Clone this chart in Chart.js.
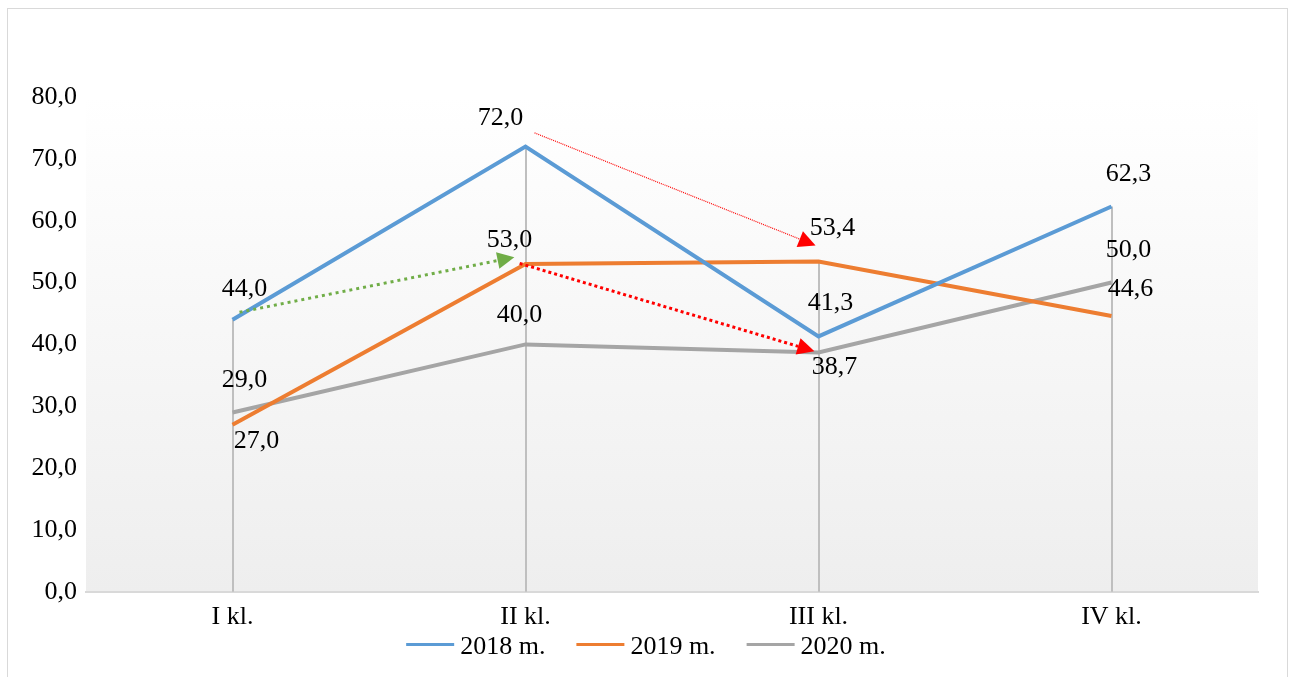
<!DOCTYPE html>
<html>
<head>
<meta charset="utf-8">
<script src="https://cdn.jsdelivr.net/npm/chart.js@4.4.0/dist/chart.umd.min.js"></script>
<style>
  html, body { margin: 0; padding: 0; background: #fff; }
  #wrap { position: relative; width: 1292px; height: 677px; overflow: hidden; }
  #frame { position: absolute; left: 7px; top: 8px; width: 1279px; height: 720px; border: 1px solid #d9d9d9; }
  canvas { position: absolute; left: 0; top: 0; }
</style>
</head>
<body>
<div id="wrap">
  <div id="frame"></div>
  <canvas id="Linegraph" width="1292" height="677"></canvas>
</div>
<script>
const categories = ['I kl.', 'II kl.', 'III kl.', 'IV kl.'];
const values2018 = [44.0, 72.0, 41.3, 62.3];
const values2019 = [27.0, 53.0, 53.4, 44.6];
const values2020 = [29.0, 40.0, 38.7, 50.0];
const yTicks = [0, 10, 20, 30, 40, 50, 60, 70, 80];

// where each value label sits relative to its point (px)
const labelOffsets = [
  [[12, -30], [-25, -28], [12, -33], [17, -32]],
  [[24, 16], [-16, -24], [14, -33], [19, -27]],
  [[12, -32], [-6, -29], [16, 15], [17, -32]]
];

// arrows drawn over the chart, in category index / value units
const arrows = [
  { from: [0.024, 45.2], to: [0.962, 54.1], color: '#70ad47', width: 3, dash: [3, 4], head: 17 },
  { from: [0.980, 53.1], to: [1.986, 38.9], color: '#ff0000', width: 3, dash: [3, 3], head: 17 },
  { from: [1.031, 74.2], to: [1.990, 56.0], color: '#ff0000', width: 1.2, dash: [1, 1], head: 17 }
];

const fmt = v => v.toFixed(1).replace('.', ',');
const font = { family: '"Liberation Serif", "Times New Roman", serif', size: 26 };

const extras = {
  id: 'extras',
  beforeDraw(chart) {
    const { ctx, chartArea: a } = chart;
    const g = ctx.createLinearGradient(0, a.top, 0, a.bottom);
    g.addColorStop(0, '#ffffff');
    g.addColorStop(1, '#eeeeee');
    ctx.save();
    ctx.fillStyle = g;
    ctx.fillRect(a.left, a.top, a.right - a.left, a.bottom - a.top);
    ctx.restore();
  },
  beforeDatasetsDraw(chart) {
    const { ctx, scales: { x, y } } = chart;
    ctx.save();
    ctx.strokeStyle = '#bfbfbf';
    ctx.lineWidth = 2;
    categories.forEach((c, i) => {
      const top = Math.max(values2018[i], values2019[i], values2020[i]);
      const px = Math.round(x.getPixelForValue(i));
      ctx.beginPath();
      ctx.moveTo(px, y.getPixelForValue(top));
      ctx.lineTo(px, y.getPixelForValue(0));
      ctx.stroke();
    });
    ctx.restore();
  },
  afterDatasetsDraw(chart) {
    const { ctx, scales: { x, y } } = chart;
    ctx.save();
    ctx.fillStyle = '#000';
    ctx.font = font.size + 'px ' + font.family;
    ctx.textAlign = 'center';
    ctx.textBaseline = 'middle';
    chart.data.datasets.forEach((ds, d) => {
      ds.data.forEach((v, i) => {
        const off = labelOffsets[d][i];
        ctx.fillText(fmt(v), x.getPixelForValue(i) + off[0], y.getPixelForValue(v) + off[1]);
      });
    });

    arrows.forEach(a => {
      const x0 = x.getPixelForValue(a.from[0]), y0 = y.getPixelForValue(a.from[1]);
      const x1 = x.getPixelForValue(a.to[0]), y1 = y.getPixelForValue(a.to[1]);
      const ang = Math.atan2(y1 - y0, x1 - x0);
      const bx = x1 - Math.cos(ang) * a.head, by = y1 - Math.sin(ang) * a.head;
      ctx.strokeStyle = a.color;
      ctx.fillStyle = a.color;
      ctx.lineWidth = a.width;
      ctx.setLineDash(a.dash);
      ctx.beginPath();
      ctx.moveTo(x0, y0);
      ctx.lineTo(bx, by);
      ctx.stroke();
      ctx.setLineDash([]);
      const hw = a.head * 0.5;
      ctx.beginPath();
      ctx.moveTo(x1, y1);
      ctx.lineTo(bx + Math.sin(ang) * hw, by - Math.cos(ang) * hw);
      ctx.lineTo(bx - Math.sin(ang) * hw, by + Math.cos(ang) * hw);
      ctx.closePath();
      ctx.fill();
    });
    ctx.restore();
  },
  afterDraw(chart) {
    // legend row: short line sample + series name, centred under the chart
    const { ctx } = chart;
    const sample = 48, gap = 6, spacing = 31, cy = 646;
    ctx.save();
    ctx.font = font.size + 'px ' + font.family;
    ctx.textBaseline = 'middle';
    ctx.textAlign = 'left';
    const items = chart.data.datasets.map(ds => ({ ds, w: sample + gap + ctx.measureText(ds.label).width }));
    const total = items.reduce((s, it) => s + it.w, 0) + spacing * (items.length - 1);
    let cx = chart.width / 2 - total / 2;
    items.forEach(it => {
      ctx.fillStyle = it.ds.borderColor;
      ctx.fillRect(cx, cy - 3, sample, 3);
      ctx.fillStyle = '#000';
      ctx.fillText(it.ds.label, cx + sample + gap, cy + 1);
      cx += it.w + spacing;
    });
    ctx.restore();
  }
};

const ctx = document.getElementById('Linegraph');

new Chart(ctx, {
  type: 'line',
  data: {
    labels: categories,
    datasets: [
      { label: '2018 m.', data: values2018, borderColor: '#5b9bd5', backgroundColor: '#5b9bd5' },
      { label: '2019 m.', data: values2019, borderColor: '#ed7d31', backgroundColor: '#ed7d31' },
      { label: '2020 m.', data: values2020, borderColor: '#a5a5a5', backgroundColor: '#a5a5a5' }
    ]
  },
  options: {
    responsive: false,
    animation: false,
    elements: {
      line: { borderWidth: 4, tension: 0, borderCapStyle: 'butt' },
      point: { radius: 0, hoverRadius: 0 }
    },
    layout: { padding: { left: 0, top: 97, right: 34, bottom: 34 } },
    scales: {
      x: {
        offset: true,
        grid: { display: false, drawTicks: false },
        border: { display: true, color: '#d9d9d9', width: 2 },
        ticks: { color: '#000', font: font, padding: 10, maxRotation: 0 }
      },
      y: {
        min: 0,
        max: 80,
        afterBuildTicks(s) { s.ticks = yTicks.map(v => ({ value: v })); },
        grid: { display: false, drawTicks: false },
        border: { display: false },
        ticks: { color: '#000', font: font, padding: 9, callback: v => fmt(v) },
        afterFit(s) { s.width = 86; }
      }
    },
    plugins: {
      legend: { display: false },
      tooltip: { enabled: false }
    }
  },
  plugins: [extras]
});
</script>
</body>
</html>
